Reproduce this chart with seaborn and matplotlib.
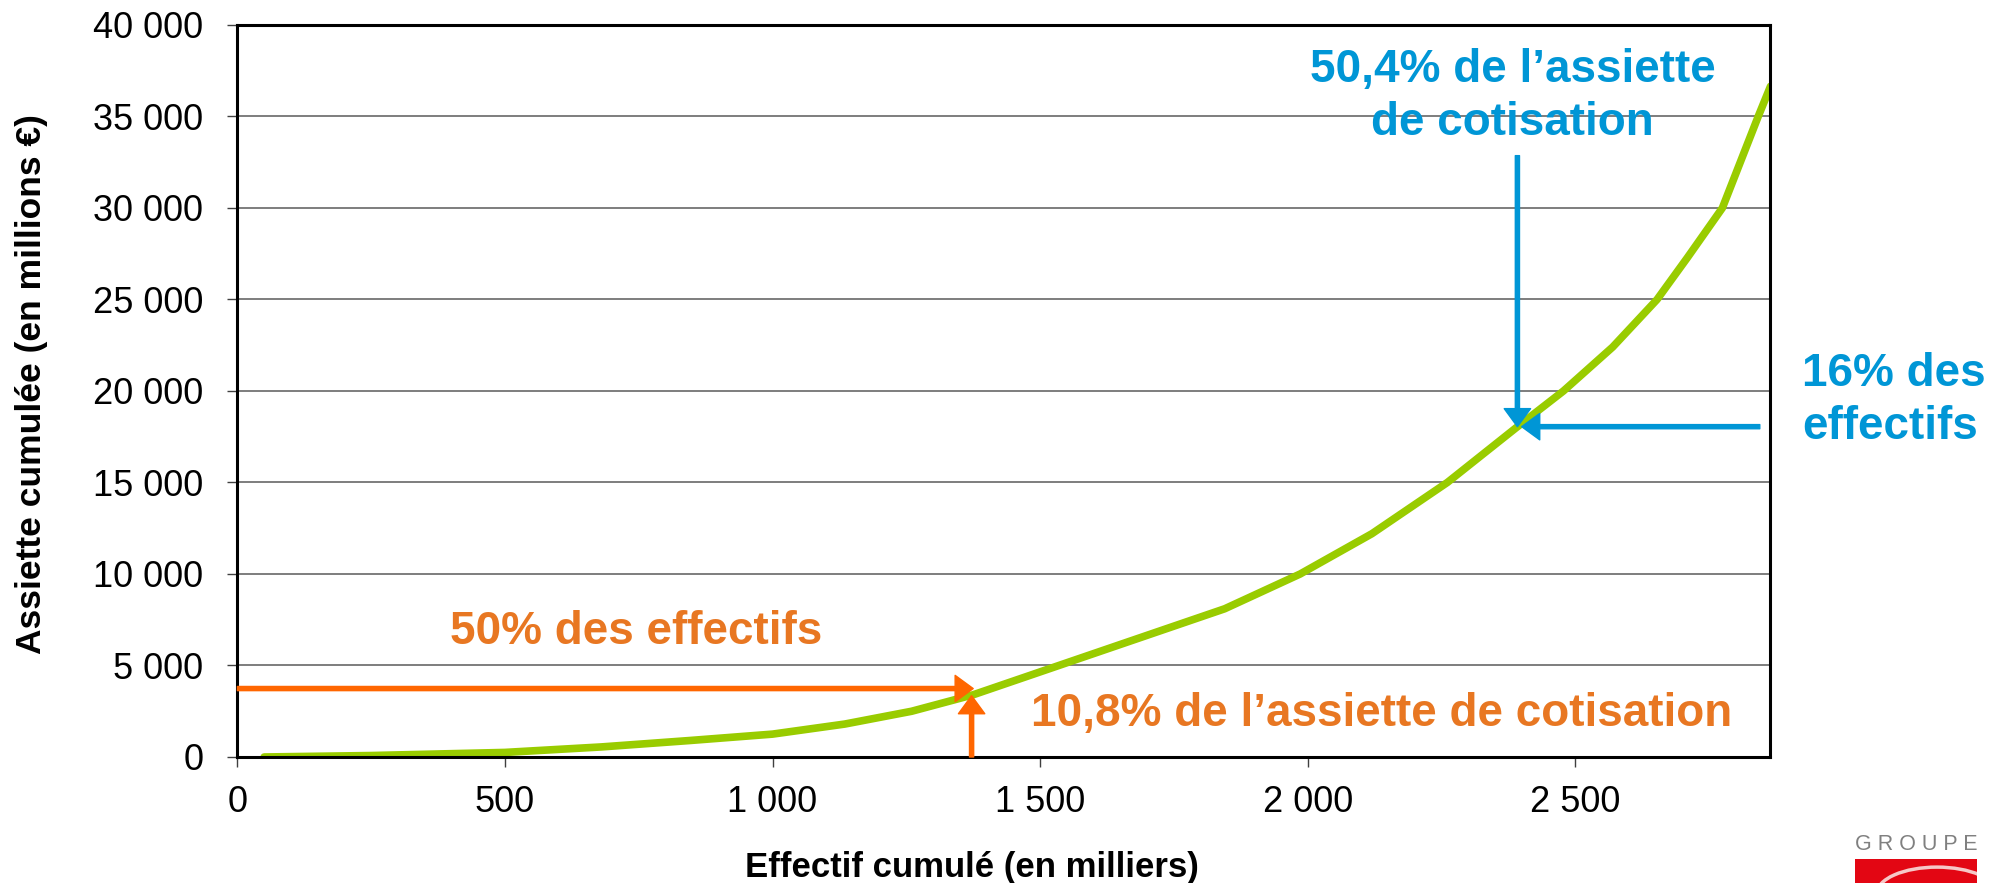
import numpy as np
import pandas as pd
import matplotlib
matplotlib.use('Agg')
import matplotlib.pyplot as plt
import seaborn as sns
from matplotlib.ticker import FuncFormatter
from matplotlib.patches import Rectangle, Circle

# courbe de concentration : effectif cumulé (milliers) / assiette cumulée (millions €)
effectif_cumule = [50, 250, 500, 680, 845, 1000, 1135, 1260, 1375, 1535, 1680, 1845,
                   1986, 2120, 2261, 2390, 2478, 2570, 2653, 2710, 2775, 2842, 2865]
assiette_cumulee = [0, 80, 250, 550, 900, 1250, 1800, 2500, 3400, 5000, 6450, 8100,
                    10000, 12200, 15000, 18000, 20000, 22400, 25000, 27300, 30000, 35000, 36650]

x_ticks = [0, 500, 1000, 1500, 2000, 2500]
y_ticks = [0, 5000, 10000, 15000, 20000, 25000, 30000, 35000, 40000]

# points repères
pt_50 = (1375, 3740)      # 50% des effectifs -> 10,8% de l'assiette
pt_16 = (2392, 18050)     # 16% des effectifs -> 50,4% de l'assiette

VERT = '#99CC00'
ORANGE_TXT = '#E87722'
ORANGE_FL = '#FF6600'
BLEU = '#0096D6'

df = pd.DataFrame({'effectif': effectif_cumule, 'assiette': assiette_cumulee})

sns.set_theme(style='white')
plt.rcParams['font.family'] = ['Liberation Sans', 'DejaVu Sans']

fig = plt.figure(figsize=(20.07, 8.83), dpi=100)
ax = fig.add_axes([0.1183, 0.1427, 0.7636, 0.829])

sns.lineplot(data=df, x='effectif', y='assiette', color=VERT, lw=5.5, ax=ax,
             solid_capstyle='round', solid_joinstyle='round', zorder=3)

ax.set_xlim(0, 2864)
ax.set_ylim(0, 40000)
ax.set_xticks(x_ticks)
ax.set_yticks(y_ticks)
fmt = FuncFormatter(lambda v, p: f'{int(v):,}'.replace(',', ' '))
ax.xaxis.set_major_formatter(fmt)
ax.yaxis.set_major_formatter(fmt)
ax.tick_params(axis='both', labelsize=26, length=7.5, width=1, color='#404040',
               labelcolor='black', left=True, bottom=True)
ax.tick_params(axis='y', pad=17)
ax.tick_params(axis='x', pad=13)

for yv in y_ticks[1:-1]:
    ax.axhline(yv, color='#5a5a5a', lw=1.1, zorder=1)

for s in ax.spines.values():
    s.set_color('black')
    s.set_linewidth(2.2)
    s.set_zorder(4)

ax.set_xlabel('Effectif cumulé (en milliers)', fontsize=25, fontweight='bold', color='black')
ax.set_ylabel('Assiette cumulée (en millions €)', fontsize=25.5, fontweight='bold', color='black')
ax.xaxis.set_label_coords(0.479, -0.1516)
ax.xaxis.label.set_verticalalignment('center')
ax.yaxis.set_label_coords(-0.1344, 0.5096)
ax.yaxis.label.set_verticalalignment('center')

# flèches oranges
fl = dict(width=3, headwidth=19, headlength=13, shrink=0)
ax.annotate('', xy=pt_50, xytext=(0, pt_50[1]),
            arrowprops=dict(color=ORANGE_FL, **fl), zorder=5, annotation_clip=False)
ax.annotate('', xy=(1372, 3350), xytext=(1372, 0),
            arrowprops=dict(color=ORANGE_FL, **fl), zorder=5, annotation_clip=False)
# flèches bleues
ax.annotate('', xy=pt_16, xytext=(pt_16[0], 32860),
            arrowprops=dict(color=BLEU, **fl), zorder=5)
ax.annotate('', xy=(2400, pt_16[1]), xytext=(2845, pt_16[1]),
            arrowprops=dict(color=BLEU, **fl), zorder=5)

ax.text(746, 6850, '50% des effectifs', color=ORANGE_TXT, fontsize=33,
        fontweight='bold', ha='center', va='center')
ax.text(2138, 2350, '10,8% de l’assiette de cotisation', color=ORANGE_TXT,
        fontsize=33, fontweight='bold', ha='center', va='center')
ax.text(2383, 36100, '50,4% de l’assiette\nde cotisation', color=BLEU, fontsize=33,
        fontweight='bold', ha='center', va='center', linespacing=1.27)
ax.text(2924, 19470, '16% des\neffectifs', color=BLEU, fontsize=33,
        fontweight='bold', ha='left', va='center', linespacing=1.27)

# logo en bas à droite
fig.text(1916 / 2007, 1 - 845 / 883, 'G R O U P E', color='#808080', fontsize=15.5,
         ha='center', va='center')
rect = Rectangle((1855 / 2007, 0), 122 / 2007, 24 / 883,
                 transform=fig.transFigure, color='#e30613', lw=0)
fig.add_artist(rect)
cercle = Circle((1937 / 2007, -0.012), 0.03, transform=fig.transFigure,
                fill=False, edgecolor='#f6c7c7', lw=2.5)
fig.add_artist(cercle)
cercle.set_clip_path(rect)

fig.savefig('out.png', dpi=100)
